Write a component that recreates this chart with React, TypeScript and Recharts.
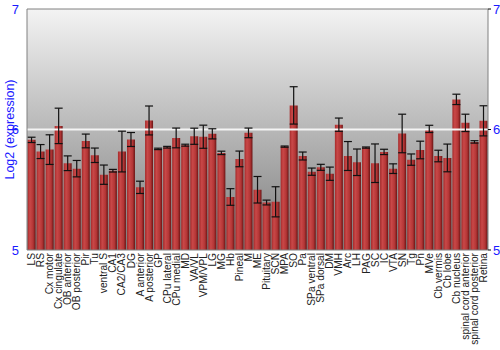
import React from 'react';
import { BarChart, Bar, XAxis, YAxis, CartesianGrid, ReferenceLine, ErrorBar } from 'recharts';

const regions = [
  'LS', 'RS', 'Cx motor', 'Cx cingulate', 'OB anterior', 'OB posterior', 'Pir', 'Tu', 'ventral S', 'CA1',
  'CA2/CA3', 'DG', 'A anterior', 'A posterior', 'GP', 'CPu lateral', 'CPu medial', 'MD', 'VA/VL', 'VPM/VPL',
  'LG', 'MG', 'Hb', 'Pineal', 'M', 'ME', 'Pituitary', 'SCN', 'MPA', 'SO',
  'Pa', 'SPa ventral', 'SPa dorsal', 'DM', 'VMH', 'Arc', 'LH', 'PAG', 'SC', 'IC',
  'VTA', 'SN', 'Tg', 'Pn', 'MVe', 'Cb vermis', 'Cb lobe', 'Cb nucleus', 'spinal cord anterior', 'spinal cord posterior',
  'Retina',
];

const expression = [
  5.914, 5.817, 5.833, 6.03, 5.72, 5.675, 5.905, 5.786, 5.625, 5.658,
  5.817, 5.917, 5.52, 6.075, 5.839, 5.853, 5.93, 5.87, 5.944, 5.94,
  5.964, 5.806, 5.44, 5.756, 5.972, 5.5, 5.394, 5.4, 5.858, 6.2,
  5.78, 5.65, 5.686, 5.633, 6.04, 5.78, 5.728, 5.85, 5.72, 5.814,
  5.675, 5.967, 5.75, 5.83, 6.005, 5.78, 5.764, 6.25, 6.055, 5.897,
  6.072,
];

const stdErr = [
  0.022, 0.058, 0.123, 0.147, 0.061, 0.068, 0.057, 0.06, 0.08, 0.011,
  0.169, 0.058, 0.051, 0.12, 0.006, 0.007, 0.082, 0.008, 0.067, 0.096,
  0.042, 0.014, 0.069, 0.065, 0.04, 0.11, 0.02, 0.125, 0.005, 0.155,
  0.033, 0.03, 0.025, 0.055, 0.055, 0.12, 0.11, 0.005, 0.16, 0.022,
  0.04, 0.16, 0.047, 0.073, 0.03, 0.048, 0.115, 0.043, 0.072, 0.01,
  0.125,
];

const yTicks = [5, 6, 7];

const data = regions.map((name, i) => ({ name, value: expression[i], err: stdErr[i] }));

// vertical region names, read bottom-to-top, ending just under the axis
const RegionTick = (props: any) => {
  const { x, y, payload } = props;
  return (
    <text
      x={x}
      y={y}
      transform={`rotate(-90, ${x}, ${y})`}
      textAnchor="end"
      dy="0.35em"
      fontSize={10.2}
      fill="#222"
      fontFamily="'Liberation Sans', Arial, sans-serif"
    >
      {payload.value}
    </text>
  );
};

export default function App() {
  return (
    <div style={{ position: 'absolute', left: 0, top: 0, width: 500, height: 350, background: '#fff' }}>
      <BarChart
        width={500}
        height={350}
        data={data}
        margin={{ top: 9, right: 0, left: 0, bottom: 0 }}
        barCategoryGap="6%"
        style={{ fontFamily: "'Liberation Sans', Arial, sans-serif" }}
      >
        <defs>
          <linearGradient id="bgFade" x1="0" y1="0" x2="0" y2="1">
            <stop offset="0%" stopColor="#f3f3f3" />
            <stop offset="100%" stopColor="#7c7c7c" />
          </linearGradient>
          <linearGradient id="barShade" x1="0" y1="0" x2="1" y2="0">
            <stop offset="0%" stopColor="#a52a2a" />
            <stop offset="30%" stopColor="#c94848" />
            <stop offset="70%" stopColor="#b33535" />
            <stop offset="100%" stopColor="#6a1414" />
          </linearGradient>
        </defs>
        <CartesianGrid horizontal={false} vertical={false} fill="url(#bgFade)" yAxisId="left" />
        <XAxis
          dataKey="name"
          interval={0}
          height={100}
          tick={<RegionTick />}
          tickLine={false}
          tickSize={0}
          tickMargin={3}
          axisLine={{ stroke: '#808080' }}
        />
        <YAxis
          yAxisId="left"
          width={27}
          domain={[5, 7]}
          ticks={yTicks}
          allowDataOverflow
          tickLine={false}
          axisLine={{ stroke: '#808080' }}
          tick={{ fill: '#1a1aff', fontSize: 13 }}
          label={{ value: 'Log2 (expression)', angle: -90, position: 'insideLeft', fill: '#1a1aff', fontSize: 12.5, dx: 5, style: { textAnchor: 'middle' } }}
        />
        <YAxis
          yAxisId="right"
          orientation="right"
          width={12}
          domain={[5, 7]}
          ticks={yTicks}
          allowDataOverflow
          tickSize={3}
          tickLine={{ stroke: '#000' }}
          axisLine={{ stroke: '#808080' }}
          tick={{ fill: '#1a1aff', fontSize: 13 }}
        />
        <ReferenceLine yAxisId="left" y={7} stroke="#808080" />
        <ReferenceLine yAxisId="left" y={6} stroke="#f4f4f4" strokeWidth={2} />
        <Bar yAxisId="left" dataKey="value" fill="url(#barShade)" isAnimationActive={false}>
          <ErrorBar dataKey="err" width={4} stroke="#111" strokeWidth={1.2} direction="y" isAnimationActive={false} />
        </Bar>
      </BarChart>
    </div>
  );
}
